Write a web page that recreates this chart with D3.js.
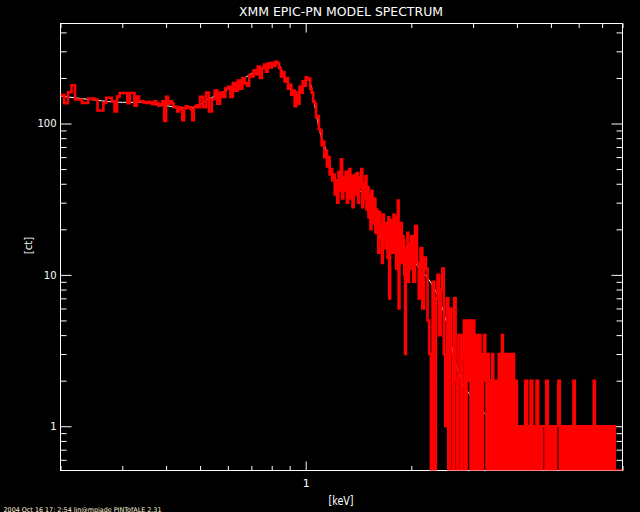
<!DOCTYPE html>
<html>
<head>
<meta charset="utf-8">
<script src="https://cdn.jsdelivr.net/npm/d3@7"></script>
<style>
  body { margin: 0; background: #000; }
  svg { display: block; }
  text { font-family: "DejaVu Sans", sans-serif; fill: #fff; }
</style>
</head>
<body>
<svg id="chart"></svg>
<script>
const width = 640, height = 512;

// spectrum: counts per energy bin (keV)
const lowStart = 0.2, lowWidth = 0.005;
const lowCounts = [
  154, 136, 161, 179, 144, 144, 137, 137, 146, 146,
  144, 122, 122, 137, 148, 148, 140, 120, 151, 159,
  159, 159, 136, 159, 159, 131, 151, 140, 140, 138,
  137, 139, 137, 134, 140, 136, 131, 134, 140, 104,
  150, 135, 140, 136, 128, 129, 120, 128, 125, 105,
  126, 130, 127, 128, 124, 105, 128, 130, 132, 128
];

const midStart = 0.5, midWidth = 0.01;
const midCounts = [
  150, 128, 160, 120, 145, 165, 135, 160, 150, 170,
  175, 150, 185, 165, 192, 170, 200, 185, 178, 210,
  205, 225, 212, 238, 200, 232, 245, 220, 250, 235,
  252, 240, 256, 250, 232, 205, 218, 190, 200, 170,
  180, 155, 165, 130, 160, 135, 175, 160, 190, 178,
  202, 195, 198, 170, 160, 140, 135, 110, 112, 92,
  90, 72, 76, 60, 66, 52, 60, 46, 50, 42,
  46, 34, 42, 30, 48, 36, 58, 32, 44, 36,
  48, 30, 42, 50, 32, 45, 28, 40, 46, 34,
  47, 30, 44, 38, 50, 28, 40, 33, 45, 27,
  38, 24, 34, 20, 36, 28, 22, 32, 19, 27,
  24, 14, 26, 18, 22, 12, 25, 17, 21, 15,
  22, 13, 24, 7, 20, 15, 23, 14, 25, 16,
  20, 11, 24, 31, 6, 19, 13, 22, 12, 18,
  17, 10, 3, 15, 12, 19, 9, 16, 11, 14
];

const highStart = 2.0, highWidth = 0.025;
const highCounts = [
  18, 9, 21, 12, 7, 15, 6, 13, 11, 5,
  3, 0, 9, 0, 7, 10, 4, 8, 11, 3,
  1, 7, 0, 6, 3, 0, 7, 2, 0, 4,
  4, 0, 3, 5, 0, 5, 2, 5, 0, 3,
  5, 0, 2, 4, 0, 4, 3, 0, 2, 4,
  2, 0, 3, 1, 0, 2, 3, 0, 2, 1,
  0, 2, 3, 0, 3, 4, 0, 2, 3, 0,
  3, 1, 0, 3, 2, 0, 3, 1, 0, 2,
  1, 0, 1, 0, 1, 1, 0, 1, 0, 2,
  2, 0, 1, 0, 1, 2, 2, 0, 1, 0,
  1, 0, 2, 2, 0, 1, 0, 1, 0, 1,
  1, 1, 1, 0, 2, 2, 0, 1, 0, 1,
  0, 1, 1, 1, 0, 1, 0, 1, 1, 1,
  2, 2, 0, 1, 0, 1, 0, 1, 0, 1,
  0, 1, 0, 1, 0, 1, 0, 1, 1, 1,
  0, 1, 2, 2, 0, 1, 0, 1, 0, 1,
  1, 1, 0, 1, 0, 1, 0, 0, 1, 0,
  1, 1, 0, 1, 0, 1, 0, 1, 0, 1,
  0, 1, 0, 1, 0, 2, 2, 0, 1, 0,
  1, 0, 1, 1, 1, 0, 1, 0, 1, 0,
  1, 1, 1, 0, 1, 0, 1, 0, 1, 1,
  0, 1, 1, 1, 0, 1, 0, 1, 0, 1,
  1, 1, 0, 1, 0, 0, 0, 0, 0, 0,
  0, 0, 0, 0, 0, 0, 0, 0, 0, 0
];
const lastEdge = 8.0;

// smooth model curve (white)
const modelEnergy = [0.2, 0.25, 0.3, 0.34, 0.4, 0.45, 0.48, 0.52, 0.6, 0.65, 0.7, 0.75, 0.8, 0.83,
  0.87, 0.9, 0.93, 0.96, 1.0, 1.02, 1.05, 1.08, 1.11, 1.14, 1.16, 1.2, 1.3, 1.43, 1.5, 1.62,
  1.8, 2.05, 2.5, 2.7, 3.0, 3.5, 4.0];
const modelCounts = [152, 143, 138, 138, 131, 127, 127, 142, 168, 190, 214, 232, 243, 249,
  205, 172, 150, 165, 190, 195, 150, 105, 80, 68, 58, 44, 40, 36, 30, 18,
  16, 12, 5.2, 2.4, 1.5, 1.0, 0.6];

const xTicksMajor = [1];
const yTicksMajor = [1, 10, 100];

const title = "XMM EPIC-PN MODEL SPECTRUM";
const xTitle = "[keV]";
const yTitle = "[ct]";
const footer = "2004 Oct 16 17: 2:54 lin@mpiade  PINTofALE 2.31";

const svg = d3.select("#chart")
    .attr("width", width)
    .attr("height", height)
    .style("background", "#000");

const x = d3.scaleLog().domain([0.2, 8]).range([60.5, 622.5]);
const y = d3.scaleLog().domain([0.51, 458]).range([470.5, 23.5]);

const x0 = x.range()[0], x1 = x.range()[1];
const yb = y.range()[0], yt = y.range()[1];

svg.append("defs").append("clipPath").attr("id", "plotclip")
  .append("rect")
    .attr("x", x0).attr("y", yt)
    .attr("width", x1 - x0).attr("height", yb - yt);

// minor ticks (everything that is not a power of ten)
const isPow10 = v => Math.abs(Math.log10(v) - Math.round(Math.log10(v))) < 1e-9;
const xTicksMinor = x.ticks().filter(v => !isPow10(v));
const yTicksMinor = y.ticks().filter(v => !isPow10(v));

function styleAxis(g) {
  g.select(".domain").remove();
  g.selectAll(".tick line").attr("stroke", "#fff").attr("stroke-width", 1);
  g.selectAll(".tick text").attr("fill", "#fff");
}

// bottom
svg.append("g").attr("transform", `translate(0,${yb})`)
  .call(d3.axisBottom(x).tickValues(xTicksMinor).tickSize(-4.5).tickFormat(""))
  .call(styleAxis);
svg.append("g").attr("transform", `translate(0,${yb})`)
  .call(d3.axisBottom(x).tickValues(xTicksMajor).tickSize(-9).tickPadding(9).tickFormat(d3.format("d")))
  .call(styleAxis)
  .call(g => g.selectAll("text").style("font-size", "11px").style("font-family", "DejaVu Sans"));
// top
svg.append("g").attr("transform", `translate(0,${yt})`)
  .call(d3.axisTop(x).tickValues(xTicksMinor).tickSize(-4.5).tickFormat(""))
  .call(styleAxis);
svg.append("g").attr("transform", `translate(0,${yt})`)
  .call(d3.axisTop(x).tickValues(xTicksMajor).tickSize(-9).tickFormat(""))
  .call(styleAxis);
// left
svg.append("g").attr("transform", `translate(${x0},0)`)
  .call(d3.axisLeft(y).tickValues(yTicksMinor).tickSize(-6).tickFormat(""))
  .call(styleAxis);
svg.append("g").attr("transform", `translate(${x0},0)`)
  .call(d3.axisLeft(y).tickValues(yTicksMajor).tickSize(-11).tickPadding(4).tickFormat(d3.format("d")))
  .call(styleAxis)
  .call(g => g.selectAll("text").style("font-size", "10px").style("font-family", "DejaVu Sans"));
// right
svg.append("g").attr("transform", `translate(${x1},0)`)
  .call(d3.axisRight(y).tickValues(yTicksMinor).tickSize(-6).tickFormat(""))
  .call(styleAxis);
svg.append("g").attr("transform", `translate(${x1},0)`)
  .call(d3.axisRight(y).tickValues(yTicksMajor).tickSize(-11).tickFormat(""))
  .call(styleAxis);

// frame
svg.append("rect")
  .attr("x", x0).attr("y", yt)
  .attr("width", x1 - x0).attr("height", yb - yt)
  .attr("fill", "none").attr("stroke", "#fff").attr("stroke-width", 1);

// model
const plot = svg.append("g").attr("clip-path", "url(#plotclip)");
const model = modelEnergy.map((e, i) => [e, modelCounts[i]]);
plot.append("path")
  .datum(model)
  .attr("fill", "none")
  .attr("stroke", "#fff")
  .attr("stroke-width", 1)
  .attr("d", d3.line().x(d => x(d[0])).y(d => y(d[1])).curve(d3.curveMonotoneX));

// data histogram
function toBins(start, step, counts) {
  return counts.map((c, i) => ({ e: start + i * step, c: c }));
}
const bins = [].concat(
  toBins(lowStart, lowWidth, lowCounts),
  toBins(midStart, midWidth, midCounts),
  toBins(highStart, highWidth, highCounts)
);
bins.push({ e: lastEdge, c: bins[bins.length - 1].c });

plot.append("path")
  .datum(bins)
  .attr("fill", "none")
  .attr("stroke", "#ff0000")
  .attr("stroke-width", 2.6)
  .attr("stroke-linejoin", "miter")
  .attr("d", d3.line()
      .x(d => x(d.e))
      .y(d => d.c > 0 ? y(d.c) : yb)
      .curve(d3.curveStepAfter));

// texts
svg.append("text")
  .attr("x", 341).attr("y", 16)
  .attr("text-anchor", "middle")
  .attr("textLength", 204).attr("lengthAdjust", "spacingAndGlyphs")
  .style("font-size", "12.5px")
  .text(title);

svg.append("text")
  .attr("x", 341).attr("y", 504.5)
  .attr("text-anchor", "middle")
  .attr("textLength", 25).attr("lengthAdjust", "spacingAndGlyphs")
  .style("font-size", "12px")
  .text(xTitle);

svg.append("text")
  .attr("transform", "translate(31.5,245.5) rotate(-90)")
  .attr("text-anchor", "middle")
  .attr("textLength", 17.5).attr("lengthAdjust", "spacingAndGlyphs")
  .style("font-size", "11px")
  .text(yTitle);

svg.append("text")
  .attr("x", 3.5).attr("y", 511.5)
  .attr("textLength", 158).attr("lengthAdjust", "spacingAndGlyphs")
  .style("font-size", "6.5px")
  .style("fill", "#fff3d8")
  .text(footer);
</script>
</body>
</html>
